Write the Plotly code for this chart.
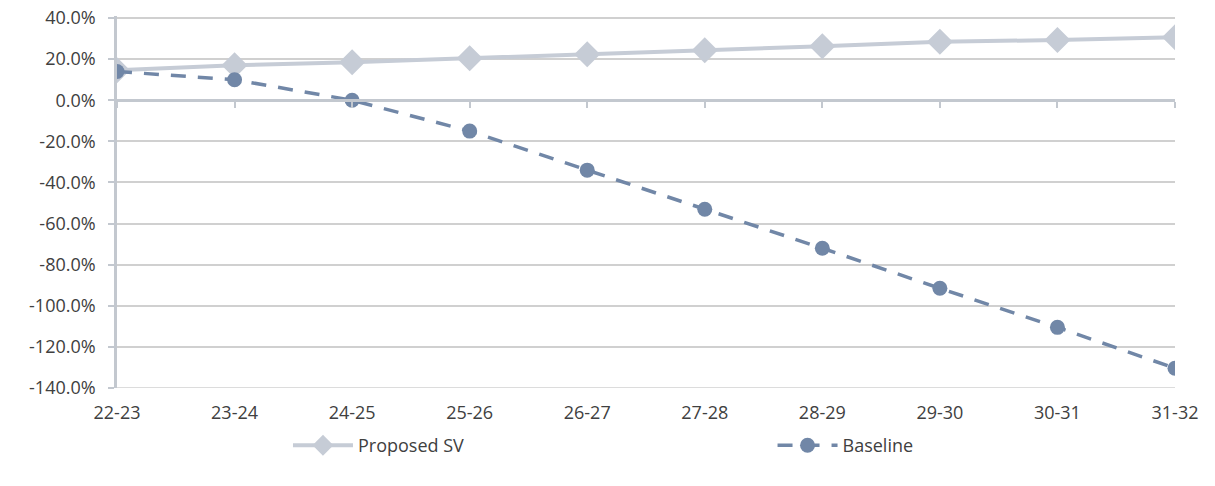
import plotly.graph_objects as go

categories = ["22-23", "23-24", "24-25", "25-26", "26-27", "27-28", "28-29", "29-30", "30-31", "31-32"]
proposed_sv = [14.6, 17.0, 18.5, 20.4, 22.4, 24.3, 26.3, 28.5, 29.3, 30.7]
baseline = [14.0, 10.0, 0.0, -15.0, -34.0, -53.0, -72.0, -91.5, -110.5, -130.4]
y_ticks = [40, 20, 0, -20, -40, -60, -80, -100, -120, -140]

font_family = "'Open Sans', Lato, sans-serif"
text_color = "#404040"
axis_color = "#c3c8cf"
grid_color = "#d0d0d0"

fig = go.Figure()

fig.add_trace(go.Scatter(
    x=categories, y=proposed_sv, name="Proposed SV", mode="lines+markers",
    line=dict(color="#c6ccd6", width=4),
    marker=dict(symbol="diamond", size=20, color="#c6ccd6"),
    legend="legend",
))
fig.add_trace(go.Scatter(
    x=categories, y=baseline, name="Baseline", mode="lines+markers",
    line=dict(color="#7187a7", width=3.5, dash="15px,12px"),
    marker=dict(symbol="circle", size=15, color="#7187a7"),
    legend="legend2",
))
# invisible helper trace for the axis line drawn at 0%
fig.add_trace(go.Scatter(
    x=categories, y=[0] * len(categories), xaxis="x2", mode="lines",
    line=dict(width=0), showlegend=False, hoverinfo="skip",
))

# make sure the outermost gridlines (top and bottom tick values) are drawn
for yv in (y_ticks[0], y_ticks[-1]):
    fig.add_hline(y=yv, line=dict(color=grid_color, width=1.5), layer="below")

ymin, ymax = -140, 41
fig.update_layout(
    width=1215, height=486,
    margin=dict(l=117, r=40, t=15.94, b=98, autoexpand=False),
    paper_bgcolor="white", plot_bgcolor="white",
    font=dict(family=font_family, size=18, color=text_color),
    xaxis=dict(
        type="category", range=[0, len(categories) - 1],
        showgrid=False, showline=False, ticks="", zeroline=False,
        tickfont=dict(size=18, color=text_color), automargin=False,
        ticklabelstandoff=12,
    ),
    xaxis2=dict(
        type="category", range=[0, len(categories) - 1], overlaying="x",
        anchor="free", position=(0 - ymin) / (ymax - ymin),
        showgrid=False, showline=True, linecolor=axis_color, linewidth=2.5,
        ticks="outside", ticklen=6, tickwidth=2, tickcolor=axis_color,
        showticklabels=False, zeroline=False,
    ),
    yaxis=dict(
        range=[ymin, ymax], tickvals=y_ticks,
        ticktext=[f"{v:.1f}%" for v in y_ticks],
        showgrid=True, gridcolor=grid_color, gridwidth=1.5,
        showline=True, linecolor=axis_color, linewidth=2.5,
        ticks="outside", ticklen=6, tickwidth=2, tickcolor=axis_color,
        zeroline=False, tickfont=dict(size=18, color=text_color),
        automargin=False, ticklabelstandoff=9, ticklabeloverflow="allow",
    ),
    legend=dict(
        orientation="h", x=0.1616, xanchor="left", y=-0.105, yanchor="top",
        font=dict(size=18, color=text_color), bgcolor="rgba(0,0,0,0)",
        itemwidth=60,
    ),
    legend2=dict(
        orientation="h", x=0.6196, xanchor="left", y=-0.105, yanchor="top",
        font=dict(size=18, color=text_color), bgcolor="rgba(0,0,0,0)",
        itemwidth=60,
    ),
    showlegend=True,
)

fig.write_html("out.html", config={"displayModeBar": False},
               post_script="document.body.style.margin='0';")
